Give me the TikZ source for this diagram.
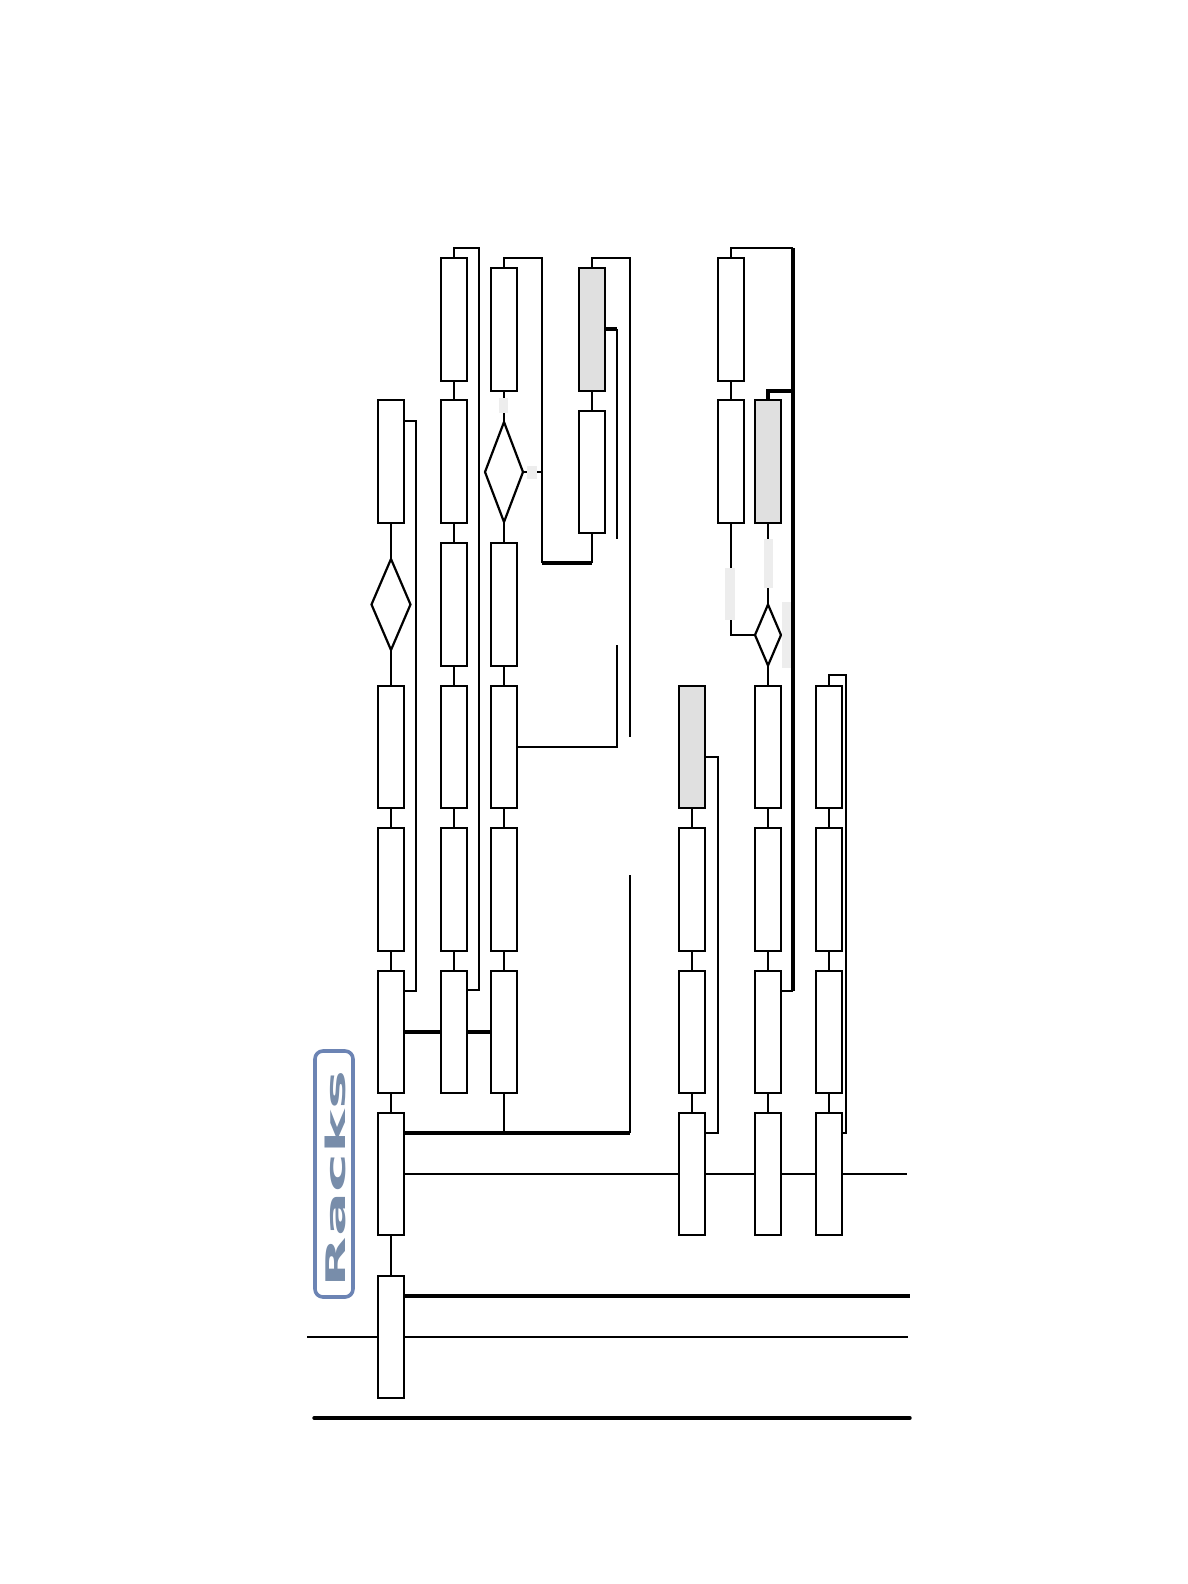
\documentclass[tikz,border=0pt]{standalone}
\usepackage{fontspec}
\newfontfamily\racksfont{DejaVu Sans}
\usetikzlibrary{shapes.geometric,backgrounds,calc}
\tikzset{
  rackbox/.style={draw=black,fill=white,line width=2.1pt,rectangle,minimum width=25.5pt,minimum height=122.5pt,inner sep=0pt,outer sep=0pt},
  grayrack/.style={rackbox,fill=boxgray},
  choice/.style={draw=black,fill=white,line width=2.2pt,diamond,inner sep=0pt,outer sep=0pt,aspect=1},
  wire/.style={draw=black,line width=2.2pt,line join=miter},
  heavy/.style={draw=black,line width=3.4pt},
  patch/.style={fill=patchgray,draw=none,rectangle,inner sep=0pt,outer sep=0pt},
}
\definecolor{boxgray}{HTML}{E0E0E0}
\definecolor{patchgray}{HTML}{EDEDED}
\definecolor{badge}{HTML}{6C84B4}
\definecolor{badgetext}{HTML}{788DAA}
\begin{document}
\begin{tikzpicture}[x=1pt,y=-1pt]
\useasboundingbox (0,0) rectangle (1188,1584);

% column A
\node[rackbox] (a1) at (391,461.5) {};
\node[choice,minimum width=39pt,minimum height=91pt] (ad) at (391,604.5) {};
\node[rackbox] (a2) at (391,747) {};
\node[rackbox] (a3) at (391,889.5) {};
\node[rackbox] (a4) at (391,1032) {};
\node[rackbox] (a5) at (391,1174) {};
\node[rackbox] (a6) at (391,1337) {};
% column B
\node[rackbox] (b1) at (454,319.5) {};
\node[rackbox] (b2) at (454,461.5) {};
\node[rackbox] (b3) at (454,604.5) {};
\node[rackbox] (b4) at (454,747) {};
\node[rackbox] (b5) at (454,889.5) {};
\node[rackbox] (b6) at (454,1032) {};
% column C
\node[rackbox] (c1) at (504,329.5) {};
\node[choice,minimum width=38pt,minimum height=100pt] (cd) at (504,472) {};
\node[rackbox] (c3) at (504,604.5) {};
\node[rackbox] (c4) at (504,747) {};
\node[rackbox] (c5) at (504,889.5) {};
\node[rackbox] (c6) at (504,1032) {};
% column D
\node[grayrack] (d1) at (592,329.5) {};
\node[rackbox] (d2) at (592,472) {};
% column E
\node[grayrack] (e1) at (692,747) {};
\node[rackbox] (e2) at (692,889.5) {};
\node[rackbox] (e3) at (692,1032) {};
\node[rackbox] (e4) at (692,1174) {};
% column G
\node[rackbox] (g1) at (731,319.5) {};
\node[rackbox] (g2) at (731,461.5) {};
% column F
\node[grayrack] (f0) at (768,461.5) {};
\node[choice,minimum width=26pt,minimum height=61pt] (fd) at (768,635) {};
\node[rackbox] (f1) at (768,747) {};
\node[rackbox] (f2) at (768,889.5) {};
\node[rackbox] (f3) at (768,1032) {};
\node[rackbox] (f4) at (768,1174) {};
% column H
\node[rackbox] (h1) at (829,747) {};
\node[rackbox] (h2) at (829,889.5) {};
\node[rackbox] (h3) at (829,1032) {};
\node[rackbox] (h4) at (829,1174) {};

% free ends
\coordinate (aeast) at (403,421);
\coordinate (aside) at (416,421);
\coordinate (aback) at (403,991);
\coordinate (bover) at (479,248);
\coordinate (bback) at (466,990);
\coordinate (cover) at (542,258);
\coordinate (clow) at (542,563);
\coordinate (dover) at (630,258);
\coordinate (dend) at (630,737);
\coordinate (dstart) at (630,875);
\coordinate (jbus) at (630,1133);
\coordinate (fromd) at (605,329);
\coordinate (dside) at (617,329);
\coordinate (dsend) at (617,539);
\coordinate (cstart) at (617,645);
\coordinate (ccorner) at (617,747);
\coordinate (eeast) at (705,757);
\coordinate (eside) at (718,757);
\coordinate (eback) at (705,1133);
\coordinate (fright) at (793,248);
\coordinate (fmid) at (793,391);
\coordinate (fbot) at (793,991);
\coordinate (fback) at (781,991);
\coordinate (htop) at (829,675);
\coordinate (hside) at (846,675);
\coordinate (hback) at (842,1133);
\coordinate (a5bus) at (403,1133);
\coordinate (a5line) at (403,1174);
\coordinate (lineend) at (907,1174);
\coordinate (a6bus) at (403,1296);
\coordinate (a6end) at (910,1296);
\coordinate (a6l) at (307,1337);
\coordinate (a6r) at (908,1337);
\coordinate (floorl) at (314,1418);
\coordinate (floorr) at (910,1418);
\coordinate (fdtail) at (794,635);
\coordinate (cdtail) at (542,472);

% connectors run behind the white boxes
\begin{pgfonlayer}{background}
\draw[wire] (a1) -- (ad) -- (a2);
\draw[wire] (a2) -- (a3);
\draw[wire] (a3) -- (a4);
\draw[wire] (a4) -- (a5);
\draw[wire] (a5) -- (a6);
\draw[wire] (aeast) -- (aside) |- (aback);
\draw[wire] (b1) -- (b2);
\draw[wire] (b2) -- (b3);
\draw[wire] (b3) -- (b4);
\draw[wire] (b4) -- (b5);
\draw[wire] (b5) -- (b6);
\draw[wire] (b1.north) |- (bover) |- (bback);
\draw[heavy] (a4) -- (c6);
\draw[wire] (c1) -- (cd) -- (c3);
\draw[wire] (c3) -- (c4);
\draw[wire] (c4) -- (c5);
\draw[wire] (c5) -- (c6);
\draw[wire] (c6) -- (c6 |- jbus);
\draw[wire] (c1.north) |- (cover) -- (clow);
\draw[heavy] (clow) -- (clow -| d2.south);
\draw[wire] (clow -| d2.south) -- (d2.south);
\draw[wire] (cd) -- (cdtail);
\draw[wire] (d1) -- (d2);
\draw[wire] (d1.north) |- (dover) -- (dend);
\draw[wire] (dstart) -- (jbus);
\draw[heavy] (fromd) -- (dside);
\draw[wire] (dside) -- (dsend);
\draw[wire] (cstart) -- (ccorner) -- (c4);
\draw[heavy] (a5bus) -- (jbus);
\draw[wire] (a5line) -- (lineend);
\draw[heavy] (a6bus) -- (a6end);
\draw[wire] (a6l) -- (a6r);
\draw[heavy,line cap=round] (floorl) -- (floorr);
\draw[wire] (e1) -- (e2);
\draw[wire] (e2) -- (e3);
\draw[wire] (e3) -- (e4);
\draw[wire] (eeast) -- (eside) |- (eback);
\draw[wire] (g1) -- (g2);
\draw[wire] (g1.north) |- (fright);
\draw[heavy] (fright) -- (fbot);
\draw[wire] (fbot) -- (fback);
\draw[heavy] (f0.north) |- (fmid);
\draw[wire] (g2.south) |- (fd.west);
\draw[wire] (f0) -- (fd) -- (f1);
\draw[wire] (fd) -- (fdtail);
\draw[wire] (f1) -- (f2);
\draw[wire] (f2) -- (f3);
\draw[wire] (f3) -- (f4);
\draw[wire] (h1) -- (h2);
\draw[wire] (h2) -- (h3);
\draw[wire] (h3) -- (h4);
\draw[wire] (h1.north) -- (htop) -- (hside) |- (hback);
\end{pgfonlayer}

% pale label patches
\node[patch,minimum width=9pt,minimum height=15pt] (p1) at (503.5,405.5) {};
\node[patch,minimum width=10pt,minimum height=13pt] (p2) at (532,472.5) {};
\node[patch,minimum width=10pt,minimum height=52pt] (p3) at (730,594) {};
\node[patch,minimum width=9pt,minimum height=49pt] (p4) at (768,563.5) {};
\node[patch,minimum width=9pt,minimum height=66pt] (p5) at (786.5,635) {};

% Racks badge
\node[draw=badge,line width=3.6pt,rounded corners=8pt,fill=white,minimum width=38pt,minimum height=246pt,inner sep=0pt] (badgebox) at (334,1174) {};
\node[rotate=90,text=badgetext,inner sep=0pt] (rackslabel) at (335.5,1179) {\scalebox{2.43}[1]{\racksfont\bfseries\fontsize{27}{27}\selectfont Racks}};
\end{tikzpicture}
\end{document}
